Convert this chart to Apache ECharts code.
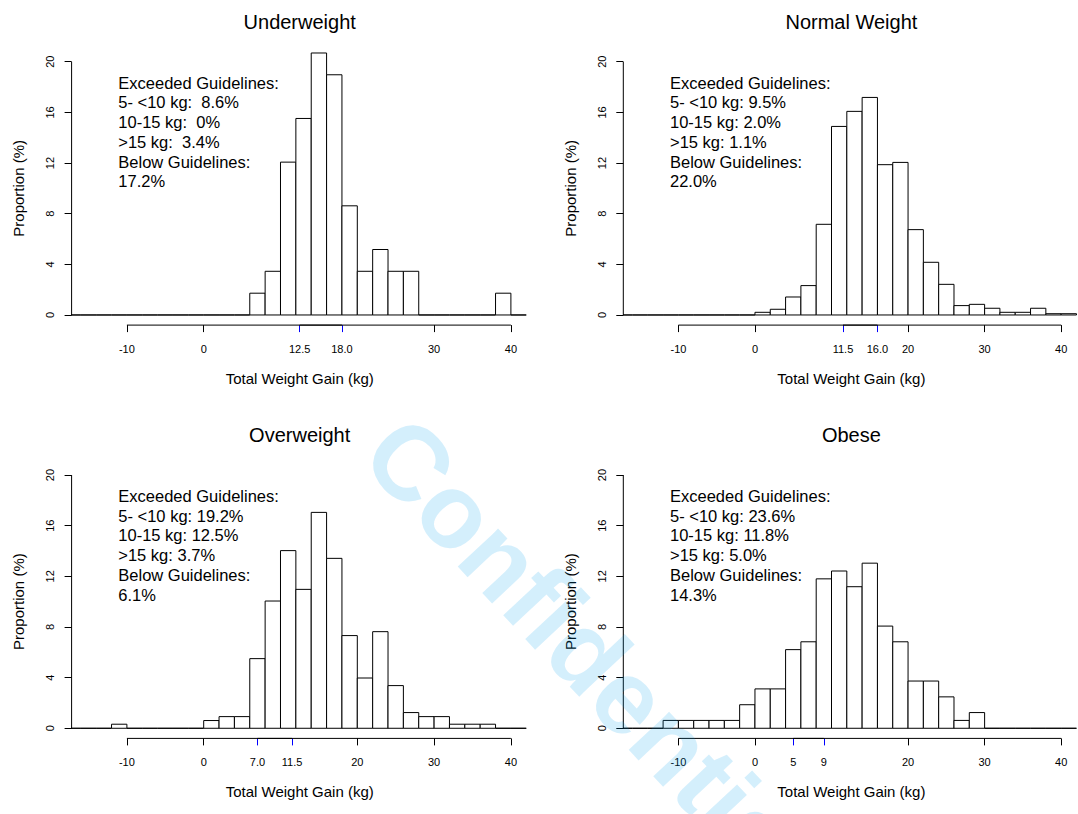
<!DOCTYPE html>
<html>
<head>
<meta charset="utf-8">
<script src="https://cdn.jsdelivr.net/npm/echarts@6/dist/echarts.min.js"></script>
<style>
html,body{margin:0;padding:0;background:#fff;}
#c{width:1078px;height:814px;}
</style>
</head>
<body>
<div id="c"></div>
<script>
// ---------------- data ----------------
const binStart = -18;          // first bin edge (kg)
const binWidth = 2;            // bin width (kg)

const panelTitles = ['Underweight', 'Normal Weight', 'Overweight', 'Obese'];

// proportions (%) per 2-kg bin, bins start at -18 kg
const underweight = [0, 0, 0, 0, 0, 0, 0, 0, 0, 0, 0, 0,
  1.72, 3.45, 12.07, 15.52, 20.69, 18.97, 8.62, 3.45, 5.17, 3.45, 3.45,
  0, 0, 0, 0, 0, 1.72, 0];
const normalWeight = [0, 0, 0, 0, 0, 0, 0, 0, 0,
  0.21, 0.45, 1.42, 2.32, 7.16, 14.89, 16.08, 17.18, 11.87, 12.05, 6.74, 4.16, 2.42,
  0.74, 0.84, 0.53, 0.21, 0.21, 0.53, 0.1, 0.1];
const overweight = [0, 0, 0, 0.32, 0, 0, 0, 0, 0,
  0.61, 0.92, 0.92, 5.5, 10.05, 14.03, 10.97, 17.05, 13.42, 7.32, 3.97, 7.63, 3.37,
  1.24, 0.92, 0.92, 0.32, 0.32, 0.32, 0, 0];
const obese = [0, 0, 0, 0.62, 0.62, 0.62, 0.62, 0.62, 1.86,
  3.11, 3.11, 6.21, 6.83, 11.8, 12.42, 11.18, 13.04, 8.07, 6.83, 3.73, 3.73, 2.48,
  0.62, 1.24, 0, 0, 0, 0, 0, 0];

const yTicks = [0, 4, 8, 12, 16, 20];

const xTicksUnderweight = [-10, 0, 30, 40];
const xTicksNormal = [-10, 0, 20, 30, 40];
const xTicksOverweight = [-10, 0, 20, 30, 40];
const xTicksObese = [-10, 0, 20, 30, 40];

const guideTicksUnderweight = [12.5, 18];
const guideLabelsUnderweight = ['12.5', '18.0'];
const guideTicksNormal = [11.5, 16];
const guideLabelsNormal = ['11.5', '16.0'];
const guideTicksOverweight = [7, 11.5];
const guideLabelsOverweight = ['7.0', '11.5'];
const guideTicksObese = [5, 9];
const guideLabelsObese = ['5', '9'];

const notesUnderweight = ['Exceeded Guidelines:', '5- <10 kg:\u00a0 8.6%', '10-15 kg:\u00a0 0%', '>15 kg:\u00a0 3.4%', 'Below Guidelines:', '17.2%'];
const notesNormal = ['Exceeded Guidelines:', '5- <10 kg: 9.5%', '10-15 kg: 2.0%', '>15 kg: 1.1%', 'Below Guidelines:', '22.0%'];
const notesOverweight = ['Exceeded Guidelines:', '5- <10 kg: 19.2%', '10-15 kg: 12.5%', '>15 kg: 3.7%', 'Below Guidelines:', '6.1%'];
const notesObese = ['Exceeded Guidelines:', '5- <10 kg: 23.6%', '10-15 kg: 11.8%', '>15 kg: 5.0%', 'Below Guidelines:', '14.3%'];

const xAxisTitle = 'Total Weight Gain (kg)';
const yAxisTitle = 'Proportion (%)';
const watermarkText = 'Confidential';

// ---------------- layout ----------------
const FONT = '"Liberation Sans", Arial, Helvetica, sans-serif';
const X_MIN = -17.2, X_MAX = 42.2, Y_MIN = -0.8, Y_MAX = 20.8;
const PLOT_LEFT = 71.6, PLOT_W = 456.2, COL_DX = 551.7;
const PLOT_TOP = 51.6, PLOT_H = 273.5, ROW_DY = 413.3;

const panels = [
  {values: underweight, ticks: xTicksUnderweight, guide: guideTicksUnderweight, guideLabels: guideLabelsUnderweight, notes: notesUnderweight},
  {values: normalWeight, ticks: xTicksNormal, guide: guideTicksNormal, guideLabels: guideLabelsNormal, notes: notesNormal},
  {values: overweight, ticks: xTicksOverweight, guide: guideTicksOverweight, guideLabels: guideLabelsOverweight, notes: notesOverweight},
  {values: obese, ticks: xTicksObese, guide: guideTicksObese, guideLabels: guideLabelsObese, notes: notesObese}
];

const chart = echarts.init(document.getElementById('c'), null, {renderer: 'svg', width: 1078, height: 814});

const grid = [], xAxis = [], yAxis = [], series = [], graphic = [];

function renderBar(params, api) {
  const x0 = api.value(0), x1 = api.value(1), v = api.value(2);
  const p0 = api.coord([x0, 0]);
  const p1 = api.coord([x1, v]);
  return {
    type: 'rect',
    shape: {x: p0[0], y: p1[1], width: p1[0] - p0[0], height: p0[1] - p1[1]},
    style: {fill: '#ffffff', stroke: '#000000', lineWidth: 1}
  };
}

panels.forEach((p, i) => {
  const col = i % 2, row = Math.floor(i / 2);
  const left = PLOT_LEFT + col * COL_DX;
  const top = PLOT_TOP + row * ROW_DY;
  grid.push({left: left, top: top, width: PLOT_W, height: PLOT_H, containLabel: false});

  const baseX = {
    type: 'value', gridIndex: i, min: X_MIN, max: X_MAX, position: 'bottom',
    splitLine: {show: false}, axisLine: {show: false, onZero: false}
  };
  xAxis.push(Object.assign({}, baseX, {
    axisTick: {show: true, length: 7, customValues: p.ticks, lineStyle: {color: '#000', width: 1}},
    axisLabel: {customValues: p.ticks, margin: 18, fontSize: 11, color: '#000', fontFamily: FONT,
      formatter: v => String(v)}
  }));
  xAxis.push(Object.assign({}, baseX, {
    axisTick: {show: true, length: 7, customValues: p.guide, lineStyle: {color: '#0000ff', width: 1}},
    axisLabel: {customValues: p.guide, margin: 18, fontSize: 11, color: '#000', fontFamily: FONT,
      formatter: v => p.guideLabels[p.guide.indexOf(v)]}
  }));
  yAxis.push({
    type: 'value', gridIndex: i, min: Y_MIN, max: Y_MAX, position: 'left',
    splitLine: {show: false}, axisLine: {show: false, onZero: false},
    axisTick: {show: true, length: 7, customValues: yTicks, lineStyle: {color: '#000', width: 1}},
    axisLabel: {customValues: yTicks, rotate: 90, margin: 16, fontSize: 11, color: '#000', fontFamily: FONT}
  });

  // histogram bars
  series.push({
    type: 'custom', xAxisIndex: 2 * i, yAxisIndex: i, clip: true, silent: true,
    encode: {x: [0, 1], y: 2},
    data: p.values.map((v, k) => [binStart + k * binWidth, binStart + (k + 1) * binWidth, v]),
    renderItem: renderBar
  });

  // R-style axis lines (span first to last tick)
  const lineStyle = {color: '#000', width: 1};
  series.push({
    type: 'line', xAxisIndex: 2 * i, yAxisIndex: i, symbol: 'none', clip: false, silent: true,
    data: [[p.ticks[0], Y_MIN], [p.ticks[p.ticks.length - 1], Y_MIN]], lineStyle: lineStyle
  });
  series.push({
    type: 'line', xAxisIndex: 2 * i, yAxisIndex: i, symbol: 'none', clip: false, silent: true,
    data: [[p.guide[0], Y_MIN], [p.guide[p.guide.length - 1], Y_MIN]], lineStyle: lineStyle
  });
  series.push({
    type: 'line', xAxisIndex: 2 * i, yAxisIndex: i, symbol: 'none', clip: false, silent: true,
    data: [[X_MIN, yTicks[0]], [X_MIN, yTicks[yTicks.length - 1]]], lineStyle: lineStyle
  });

  // titles & axis titles
  const cx = left + PLOT_W / 2;
  graphic.push({type: 'text', x: cx, y: 21.7 + row * ROW_DY, silent: true,
    style: {text: panelTitles[i], fontSize: 20, fontFamily: FONT, fill: '#000',
      align: 'center', verticalAlign: 'middle', textAlign: 'center', textVerticalAlign: 'middle'}});
  graphic.push({type: 'text', x: cx, y: 378 + row * ROW_DY, silent: true,
    style: {text: xAxisTitle, fontSize: 15, fontFamily: FONT, fill: '#000',
      align: 'center', verticalAlign: 'middle', textAlign: 'center', textVerticalAlign: 'middle'}});
  graphic.push({type: 'text', x: 18.3 + col * COL_DX, y: top + PLOT_H / 2, rotation: Math.PI / 2, silent: true,
    style: {text: yAxisTitle, fontSize: 15, fontFamily: FONT, fill: '#000',
      align: 'center', verticalAlign: 'middle', textAlign: 'center', textVerticalAlign: 'middle'}});

  // annotation block
  p.notes.forEach((line, k) => {
    graphic.push({type: 'text', x: left + 46.7, y: 82.7 + row * ROW_DY + k * 19.7, silent: true,
      style: {text: line, fontSize: 16.5, fontFamily: FONT, fill: '#000',
        align: 'left', verticalAlign: 'middle', textAlign: 'left', textVerticalAlign: 'middle'}});
  });
});

// watermark
graphic.push({type: 'text', x: 384, y: 434, rotation: -47 * Math.PI / 180, silent: true, z: 100,
  style: {text: watermarkText, fontSize: 105, fontWeight: 'bold', fontFamily: FONT,
    fill: 'rgba(0,160,240,0.17)', align: 'left', verticalAlign: 'middle', textAlign: 'left', textVerticalAlign: 'middle'}});

chart.setOption({
  animation: false,
  backgroundColor: '#ffffff',
  grid: grid,
  xAxis: xAxis,
  yAxis: yAxis,
  series: series,
  graphic: graphic
});
</script>
</body>
</html>
